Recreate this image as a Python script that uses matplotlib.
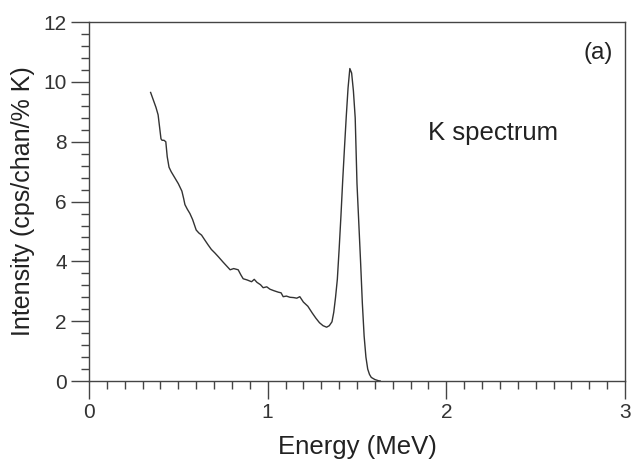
import matplotlib
matplotlib.use("Agg")
import matplotlib.pyplot as plt
from matplotlib.ticker import MultipleLocator

plt.rcParams['font.family'] = ['Liberation Sans', 'DejaVu Sans']

energy = [0.345, 0.36, 0.375, 0.387, 0.395, 0.403, 0.409, 0.42, 0.43, 0.438, 0.448,
          0.46, 0.48, 0.50, 0.52, 0.53, 0.537, 0.55, 0.565, 0.58, 0.60, 0.615, 0.63,
          0.65, 0.667, 0.685, 0.705, 0.725, 0.75, 0.77, 0.79, 0.81, 0.835, 0.85, 0.863,
          0.885, 0.91, 0.925, 0.94, 0.96, 0.975, 0.995, 1.013, 1.035, 1.06, 1.075, 1.087,
          1.105, 1.125, 1.145, 1.163, 1.18, 1.20, 1.225, 1.25, 1.27, 1.29, 1.31, 1.33,
          1.345, 1.36, 1.37, 1.38, 1.39, 1.40, 1.41, 1.42, 1.43, 1.44, 1.45, 1.46,
          1.47, 1.48, 1.49, 1.50, 1.51, 1.52, 1.53, 1.54, 1.55, 1.56, 1.57, 1.58,
          1.60, 1.62, 1.63]
intensity = [9.65, 9.4, 9.15, 8.9, 8.5, 8.1, 8.05, 8.05, 8.0, 7.5, 7.15,
             7.0, 6.8, 6.6, 6.35, 6.1, 5.9, 5.75, 5.6, 5.4, 5.05, 4.95, 4.88,
             4.7, 4.55, 4.4, 4.28, 4.15, 3.98, 3.85, 3.72, 3.76, 3.72, 3.55, 3.42,
             3.38, 3.32, 3.4, 3.3, 3.22, 3.12, 3.15, 3.07, 3.02, 2.97, 2.95, 2.82,
             2.84, 2.8, 2.79, 2.77, 2.82, 2.64, 2.5, 2.27, 2.1, 1.95, 1.85, 1.8,
             1.85, 1.98, 2.3, 2.8, 3.4, 4.4, 5.5, 6.7, 7.8, 8.85, 9.8, 10.45,
             10.3, 9.7, 8.8, 6.6, 5.3, 4.0, 2.6, 1.5, 0.8, 0.4, 0.22, 0.12,
             0.05, 0.01, 0.0]

fig = plt.figure(figsize=(6.31, 4.62), dpi=100)
ax = fig.add_axes([0.141, 0.1753, 0.8495, 0.7767])
ax.plot(energy, intensity, color='#333333', lw=1.0)

ax.set_xlim(0, 3)
ax.set_ylim(0, 12)
ax.xaxis.set_major_locator(MultipleLocator(1))
ax.xaxis.set_minor_locator(MultipleLocator(0.1))
ax.yaxis.set_major_locator(MultipleLocator(2))
ax.yaxis.set_minor_locator(MultipleLocator(0.4))

for s in ax.spines.values():
    s.set_color('#444444')
    s.set_linewidth(1.0)
ax.tick_params(which='major', direction='out', length=13, width=1.0, color='#444444',
               labelsize=15, labelcolor='#333333', pad=3)
ax.tick_params(which='minor', direction='out', length=6, width=1.0, color='#444444')

ax.set_xlabel('Energy (MeV)', fontsize=18.5, color='#222222', labelpad=9)
ax.set_ylabel('Intensity (cps/chan/% K)', fontsize=18, color='#222222', labelpad=6)

ax.text(0.978, 0.915, '(a)', transform=ax.transAxes, fontsize=17.5, color='#222222',
        ha='right', va='center')
ax.text(0.754, 0.692, 'K spectrum', transform=ax.transAxes, fontsize=18.5, color='#222222',
        ha='center', va='center')

fig.savefig('out.png', dpi=100)
